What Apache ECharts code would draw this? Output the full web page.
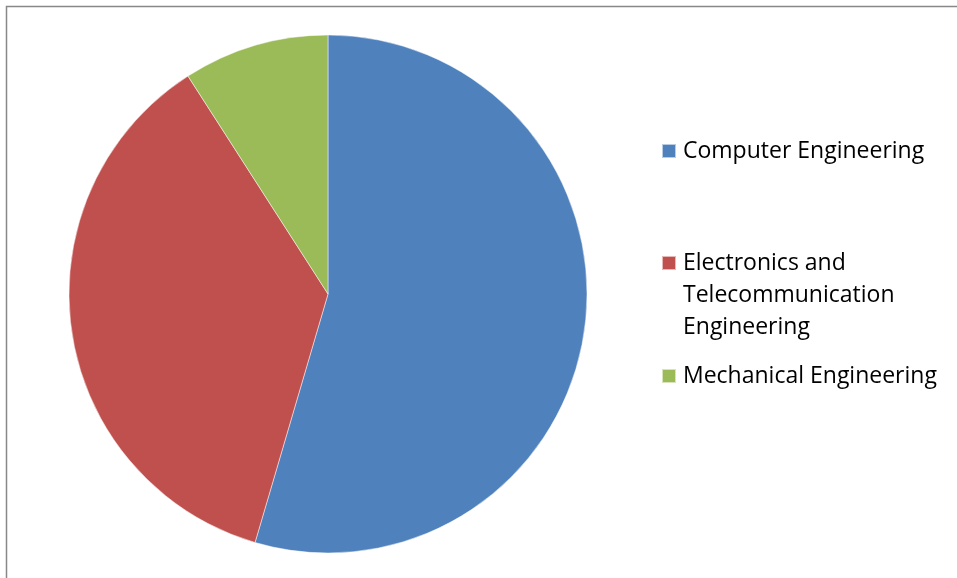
<!DOCTYPE html>
<html>
<head>
<meta charset="utf-8">
<script src="https://cdn.jsdelivr.net/npm/echarts@6/dist/echarts.min.js"></script>
<style>html,body{margin:0;padding:0;background:#fff;}#c{width:957px;height:578px;}</style>
</head>
<body>
<div id="c"></div>
<script>
const categories = ['Computer Engineering', 'Electronics and Telecommunication Engineering', 'Mechanical Engineering'];
const legendLabels = ['Computer Engineering', '\n\nElectronics and\nTelecommunication\nEngineering', 'Mechanical Engineering'];
const values = [6, 4, 1];
const colors = ['#4F81BD', '#C0504D', '#9BBB59'];

const chart = echarts.init(document.getElementById('c'));
const baseText = { fontFamily: 'Open Sans', fontSize: 23, color: '#000', lineHeight: 32, padding: [0, 0, 0, 2] };
function mkLegend(i, top) {
  return {
    show: true, orient: 'vertical', left: 661, top: top, padding: 0,
    itemWidth: 14, itemHeight: 14, icon: 'rect',
    data: [categories[i]],
    formatter: function () { return legendLabels[i]; },
    textStyle: baseText,
    selectedMode: false
  };
}
chart.setOption({
  animation: false,
  color: colors,
  graphic: [{
    type: 'rect', shape: { x: 6.5, y: 6.5, width: 1200, height: 1200 },
    style: { fill: 'none', stroke: '#888888', lineWidth: 1.5 }, silent: true
  }],
  legend: [
    mkLegend(0, 135),
    mkLegend(1, 183),
    mkLegend(2, 360)
  ],
  series: [{
    type: 'pie',
    center: [328, 294],
    radius: 259,
    startAngle: 90,
    clockwise: true,
    label: { show: false },
    labelLine: { show: false },
    emphasis: { disabled: true },
    itemStyle: { borderColor: 'rgba(255,255,255,0.6)', borderWidth: 0.8 },
    data: categories.map((c, i) => ({ name: c, value: values[i] }))
  }]
});
</script>
</body>
</html>
